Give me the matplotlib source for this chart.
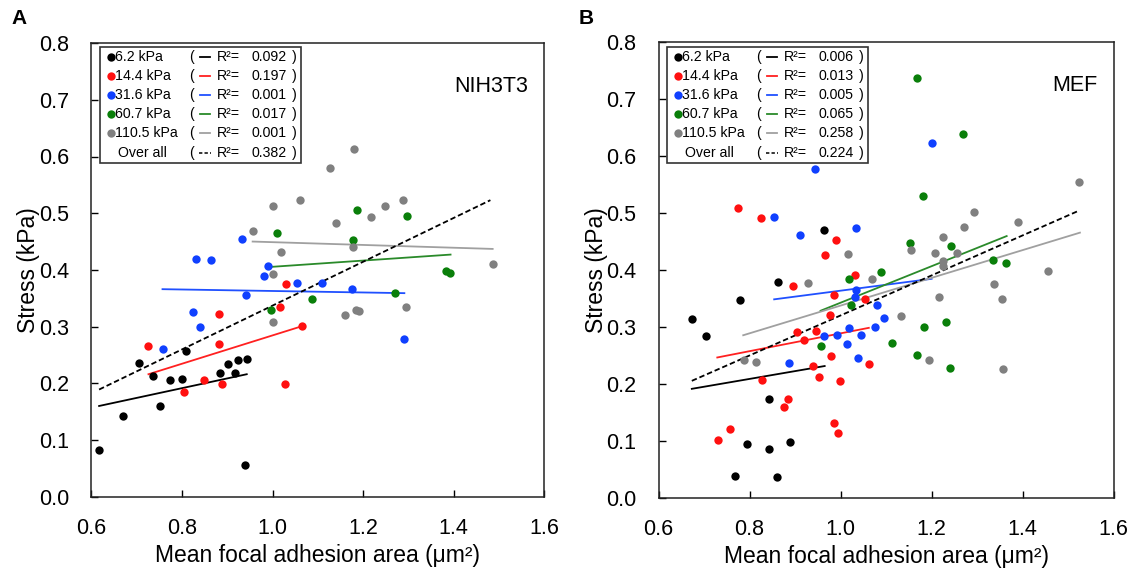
import matplotlib
matplotlib.use("Agg")
import matplotlib.pyplot as plt
from matplotlib.lines import Line2D

plt.rcParams['font.family'] = ['Liberation Sans', 'DejaVu Sans']

# ---------------- data ----------------
groups = ["6.2 kPa", "14.4 kPa", "31.6 kPa", "60.7 kPa", "110.5 kPa"]
colors = ["#000000", "#ff1010", "#1040ff", "#0a7f0a", "#808080"]
line_colors = ["#000000", "#ff2020", "#2050ff", "#2a8a2a", "#a0a0a0"]

# Panel A (NIH3T3)
a_x_62 = [0.617, 0.670, 0.704, 0.735, 0.751, 0.774, 0.799, 0.808, 0.884, 0.901, 0.917, 0.924, 0.943, 0.939]
a_y_62 = [0.082, 0.142, 0.236, 0.213, 0.160, 0.206, 0.208, 0.257, 0.219, 0.234, 0.219, 0.241, 0.243, 0.056]
a_x_144 = [0.725, 0.882, 0.882, 0.849, 0.889, 0.804, 1.016, 1.066, 1.027, 1.030]
a_y_144 = [0.265, 0.323, 0.269, 0.206, 0.198, 0.185, 0.334, 0.301, 0.199, 0.376]
a_x_316 = [0.933, 0.831, 0.863, 0.990, 0.980, 1.053, 1.109, 0.941, 1.176, 0.824, 0.840, 0.757, 1.290]
a_y_316 = [0.454, 0.420, 0.417, 0.406, 0.389, 0.377, 0.377, 0.355, 0.366, 0.325, 0.299, 0.261, 0.279]
a_x_607 = [1.009, 1.186, 1.297, 1.178, 1.382, 1.392, 1.270, 1.088, 0.997]
a_y_607 = [0.465, 0.506, 0.495, 0.452, 0.398, 0.394, 0.360, 0.349, 0.329]
a_x_1105 = [1.179, 1.126, 1.001, 1.061, 1.248, 1.287, 1.217, 1.139, 0.956, 1.178, 1.018, 1.002,
            1.486, 1.294, 1.184, 1.191, 1.000, 1.161]
a_y_1105 = [0.613, 0.579, 0.513, 0.523, 0.513, 0.523, 0.493, 0.482, 0.469, 0.440, 0.432, 0.392,
            0.411, 0.335, 0.330, 0.328, 0.308, 0.321]
a_r2 = ["0.092", "0.197", "0.001", "0.017", "0.001"]
a_r2_all = "0.382"
# regression lines (start/end)
a_fit_x = [[0.617, 0.943], [0.726, 1.066], [0.757, 1.291], [0.991, 1.393], [0.956, 1.486]]
a_fit_y = [[0.160, 0.216], [0.216, 0.301], [0.366, 0.359], [0.405, 0.427], [0.450, 0.437]]
a_all_x = [0.617, 1.481]
a_all_y = [0.189, 0.523]

# Panel B (MEF)
b_x_62 = [0.964, 0.862, 0.779, 0.673, 0.705, 0.843, 0.794, 0.843, 0.889, 0.767, 0.860]
b_y_62 = [0.469, 0.378, 0.346, 0.314, 0.284, 0.174, 0.095, 0.086, 0.098, 0.038, 0.037]
b_x_144 = [0.775, 0.826, 0.990, 0.966, 1.032, 0.896, 0.986, 1.054, 0.977, 0.905, 0.945, 0.920,
           0.978, 0.939, 1.062, 0.953, 0.998, 0.827, 0.884, 0.876, 0.758, 0.731, 0.985, 0.995]
b_y_144 = [0.508, 0.490, 0.452, 0.426, 0.391, 0.372, 0.356, 0.348, 0.321, 0.291, 0.292, 0.276,
           0.248, 0.231, 0.234, 0.212, 0.205, 0.206, 0.174, 0.160, 0.121, 0.101, 0.131, 0.113]
b_x_316 = [0.944, 1.200, 0.854, 0.911, 1.033, 1.034, 1.032, 1.079, 1.095, 1.075, 1.019, 0.991,
           0.963, 1.045, 1.015, 1.039, 0.887]
b_y_316 = [0.576, 0.622, 0.492, 0.461, 0.474, 0.364, 0.352, 0.338, 0.315, 0.300, 0.298, 0.286,
           0.284, 0.286, 0.269, 0.245, 0.236]
b_x_607 = [1.169, 1.270, 1.181, 1.152, 1.243, 1.088, 1.335, 1.364, 1.019, 1.022, 0.956, 1.114,
           1.231, 1.184, 1.167, 1.240]
b_y_607 = [0.736, 0.638, 0.529, 0.446, 0.442, 0.396, 0.417, 0.411, 0.384, 0.338, 0.266, 0.271,
           0.309, 0.300, 0.250, 0.228]
b_x_1105 = [1.525, 1.293, 1.390, 1.272, 1.224, 1.155, 1.207, 1.255, 1.226, 1.224, 1.456, 1.337,
            1.216, 1.354, 1.132, 1.194, 1.358, 1.016, 0.929, 1.069, 0.788, 0.814]
b_y_1105 = [0.554, 0.502, 0.483, 0.475, 0.457, 0.435, 0.430, 0.429, 0.416, 0.406, 0.397, 0.375,
            0.352, 0.349, 0.319, 0.242, 0.225, 0.428, 0.376, 0.384, 0.242, 0.238]
b_r2 = ["0.006", "0.013", "0.005", "0.065", "0.258"]
b_r2_all = "0.224"
b_fit_x = [[0.673, 0.965], [0.729, 1.062], [0.854, 1.200], [0.956, 1.365], [0.786, 1.526]]
b_fit_y = [[0.191, 0.231], [0.246, 0.298], [0.348, 0.384], [0.328, 0.459], [0.285, 0.465]]
b_all_x = [0.673, 1.525]
b_all_y = [0.205, 0.504]

x_ticks = [0.6, 0.8, 1.0, 1.2, 1.4, 1.6]
y_ticks = [0.0, 0.1, 0.2, 0.3, 0.4, 0.5, 0.6, 0.7, 0.8]

# ---------------- figure ----------------
W, H = 1129, 570
fig = plt.figure(figsize=(W / 100, H / 100), dpi=100)


def fpos(x, y):
    return x / W, (H - y) / H


axA = fig.add_axes([91.4 / W, (H - 496.7) / H, 452.9 / W, 453.6 / H])
axB = fig.add_axes([658.6 / W, (H - 497.7) / H, 455.0 / W, 456.0 / H])

panels = [
    (axA, [(a_x_62, a_y_62), (a_x_144, a_y_144), (a_x_316, a_y_316), (a_x_607, a_y_607), (a_x_1105, a_y_1105)],
     a_fit_x, a_fit_y, a_all_x, a_all_y, a_r2, a_r2_all, "NIH3T3", 91.4, "A"),
    (axB, [(b_x_62, b_y_62), (b_x_144, b_y_144), (b_x_316, b_y_316), (b_x_607, b_y_607), (b_x_1105, b_y_1105)],
     b_fit_x, b_fit_y, b_all_x, b_all_y, b_r2, b_r2_all, "MEF", 658.6, "B"),
]

for ax, pts, fx, fy, allx, ally, r2, r2all, title, left_px, letter in panels:
    for (xs, ys), c in zip(pts, colors):
        ax.scatter(xs, ys, s=36, color=c, linewidths=0, zorder=3)
    for xs, ys, c in zip(fx, fy, line_colors):
        ax.plot(xs, ys, color=c, lw=1.3, zorder=2)
    ax.plot(allx, ally, color="black", lw=1.3, ls=(0, (3, 1.6)), zorder=2)

    ax.set_xlim(0.6, 1.6)
    ax.set_ylim(0.0, 0.8)
    ax.set_xticks(x_ticks)
    ax.set_xticklabels([f"{t:.1f}" for t in x_ticks])
    ax.set_yticks(y_ticks)
    ax.set_yticklabels([f"{t:.1f}" for t in y_ticks])
    ax.tick_params(direction="in", length=5, width=1.0, labelsize=15.5, top=False, right=False)
    ax.tick_params(axis="y", pad=16)
    ax.tick_params(axis="x", pad=15)
    for sp in ax.spines.values():
        sp.set_linewidth(1.1)
        sp.set_color("#222222")
    ax.set_xlabel("Mean focal adhesion area (μm²)", fontsize=16.5, labelpad=4)
    ax.set_ylabel("Stress (kPa)", fontsize=16.5, labelpad=-1)

    ax.text(0.965, 0.905, title, transform=ax.transAxes, ha="right", va="center", fontsize=15.5)

    # panel letter
    fig.text(*fpos(left_px - 72, 18), letter, fontsize=15, fontweight="bold", ha="center", va="center")

    # custom legend box
    x0 = left_px + 8.6
    bx0, bx1 = x0, x0 + 201
    by0, by1 = 46.5, 162.5
    rect = plt.Rectangle(fpos(bx0, by1), (bx1 - bx0) / W, (by1 - by0) / H,
                         transform=fig.transFigure, fill=False, edgecolor="#333333", lw=1.2, zorder=5)
    fig.add_artist(rect)
    row_y = [57, 76, 95, 114, 133.3, 152.7]
    labels = groups + ["Over all"]
    vals = r2 + [r2all]
    fs = 10.2
    for i, yy in enumerate(row_y):
        if i < 5:
            fig.add_artist(Line2D([(x0 + 11) / W], [(H - yy) / H], marker="o", ms=6, color=colors[i],
                                  markeredgewidth=0, transform=fig.transFigure))
            fig.text(*fpos(x0 + 15, yy), labels[i], fontsize=fs, ha="left", va="center")
        else:
            fig.text(*fpos(x0 + 18, yy), labels[i], fontsize=fs, ha="left", va="center")
        fig.text(*fpos(x0 + 91, yy), "(", fontsize=fs, ha="center", va="center")
        if i < 5:
            fig.add_artist(Line2D([(x0 + 100) / W, (x0 + 110) / W], [(H - yy) / H] * 2,
                                  color=line_colors[i], lw=1.3, transform=fig.transFigure))
        else:
            fig.add_artist(Line2D([(x0 + 99) / W, (x0 + 111) / W], [(H - yy) / H] * 2,
                                  color="black", lw=1.1, ls=(0, (2.2, 1.4)), transform=fig.transFigure))
        fig.text(*fpos(x0 + 117, yy), "R²=", fontsize=fs, ha="left", va="center")
        fig.text(*fpos(x0 + 151, yy), vals[i], fontsize=fs, ha="left", va="center")
        fig.text(*fpos(x0 + 194, yy), ")", fontsize=fs, ha="center", va="center")

fig.savefig("out.png", dpi=100)
